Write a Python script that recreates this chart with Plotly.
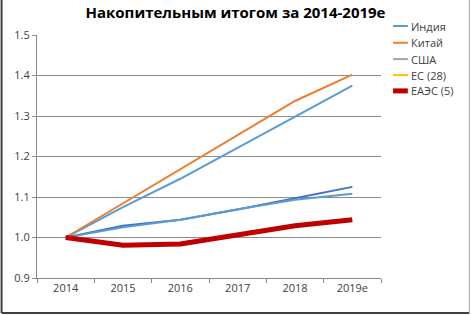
import plotly.graph_objects as go

years = ["2014", "2015", "2016", "2017", "2018", "2019e"]
india = [1.0, 1.075, 1.145, 1.222, 1.300, 1.375]
china = [1.0, 1.084, 1.168, 1.253, 1.337, 1.402]
usa = [1.0, 1.029, 1.044, 1.069, 1.097, 1.125]
eu = [1.0, 1.025, 1.044, 1.070, 1.093, 1.108]
eaeu = [1.0, 0.981, 0.984, 1.005, 1.029, 1.044]
names = ["Индия", "Китай", "США", "ЕС (28)", "ЕАЭС (5)"]
legend_colors = ["#5B9BD5", "#ED7D31", "#A5A5A5", "#FFC000", "#C00000"]
legend_widths = [2, 2, 2, 2, 5]

fig = go.Figure()
fig.add_trace(go.Scatter(x=years, y=usa, mode="lines", line=dict(color="#4472C4", width=2), name=names[2]))
fig.add_trace(go.Scatter(x=years, y=eu, mode="lines", line=dict(color="#5B9BD5", width=2), name=names[3]))
fig.add_trace(go.Scatter(x=years, y=india, mode="lines", line=dict(color="#5B9BD5", width=2), name=names[0]))
fig.add_trace(go.Scatter(x=years, y=china, mode="lines", line=dict(color="#ED7D31", width=2), name=names[1]))
fig.add_trace(go.Scatter(x=years, y=eaeu, mode="lines", line=dict(color="#C00000", width=5), name=names[4]))

# custom legend (annotations + short line shapes)
legend_y = [1.037, 0.968, 0.901, 0.835, 0.770]
shapes = []
annotations = []
for nm, col, w, ly in zip(names, legend_colors, legend_widths, legend_y):
    shapes.append(dict(type="line", xref="paper", yref="paper", x0=1.035, x1=1.078, y0=ly, y1=ly,
                       line=dict(color=col, width=w)))
    annotations.append(dict(text=nm, xref="paper", yref="paper", x=1.084, y=ly, xanchor="left",
                            yanchor="middle", showarrow=False, borderpad=0,
                            font=dict(size=11, color="#404040")))

# chart border
shapes += [
    dict(type="line", xref="paper", yref="paper", x0=-0.103, x1=-0.103, y0=-0.144, y1=1.15,
         line=dict(color="#404040", width=2)),
    dict(type="line", xref="paper", yref="paper", x0=-0.103, x1=1.257, y0=-0.144, y1=-0.144,
         line=dict(color="#404040", width=2)),
    dict(type="line", xref="paper", yref="paper", x0=1.257, x1=1.257, y0=-0.144, y1=1.15,
         line=dict(color="#A8A8A8", width=1)),
]

fig.update_layout(
    width=471, height=315,
    margin=dict(l=37, r=90, t=35, b=37),
    paper_bgcolor="white", plot_bgcolor="white",
    showlegend=False,
    font=dict(family="Open Sans, Liberation Sans, sans-serif", color="#595959", size=11),
    title=dict(text="<b>Накопительным итогом за 2014-2019e</b>", x=0.5, xanchor="center",
               y=0.96, yanchor="middle", font=dict(size=15, color="black", family="Open Sans, sans-serif")),
    xaxis=dict(type="category", range=[-0.5, 5.5], tickson="boundaries", ticks="outside", ticklen=4,
               tickcolor="#888888", showline=True, linecolor="#888888", showgrid=False,
               tickfont=dict(size=11, color="#404040")),
    yaxis=dict(range=[0.9, 1.5], dtick=0.1, tickformat=".1f", ticks="outside", ticklen=4,
               tickcolor="#888888", showline=True, linecolor="#888888",
               gridcolor="#8C8C8C", gridwidth=1, zeroline=False,
               tickfont=dict(size=11, color="#404040")),
    shapes=shapes,
    annotations=annotations,
)

fig.write_html("out.html")
